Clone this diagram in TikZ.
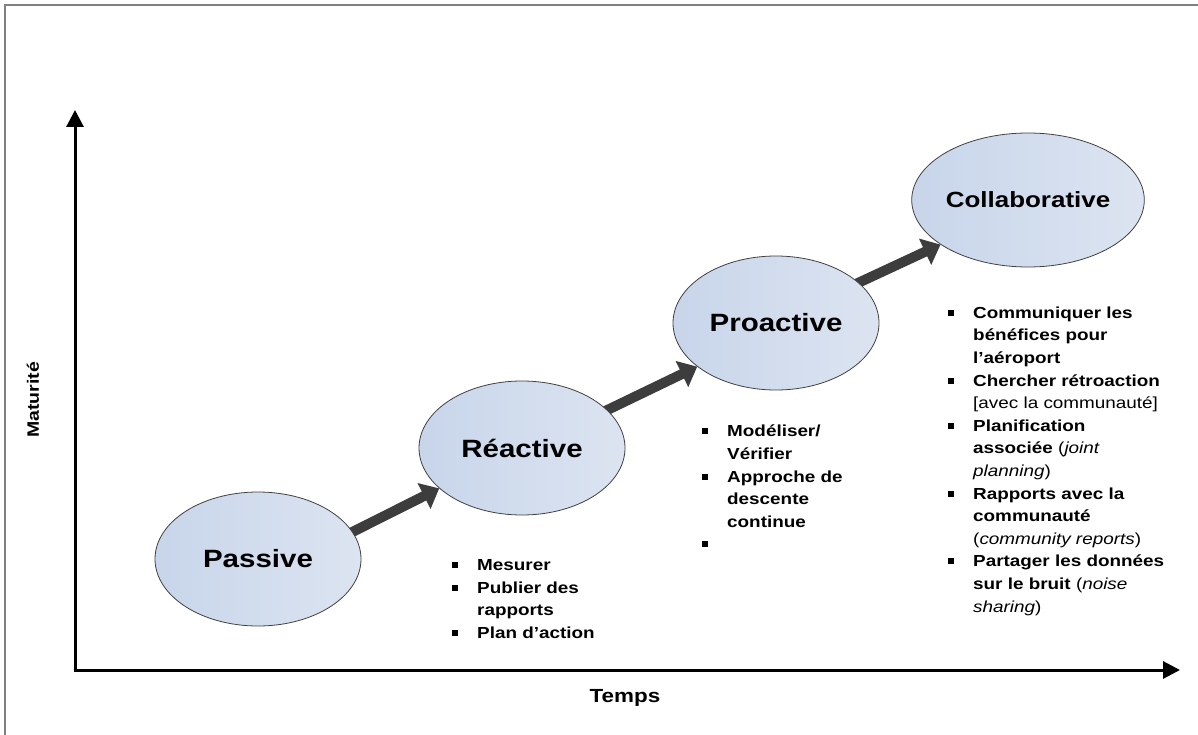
\documentclass[tikz,border=0pt]{standalone}
\usepackage{fontspec}
\setmainfont{Liberation Sans}[FakeStretch=1.18]
\usetikzlibrary{arrows.meta,shapes.geometric}
\pgfdeclarelayer{bg}
\pgfsetlayers{bg,main}

\definecolor{stageleft}{RGB}{200,213,234}
\definecolor{stageright}{RGB}{220,228,241}
\definecolor{framegray}{RGB}{128,128,128}

\newcommand{\blt}{\makebox[25pt][l]{\rule[2.5pt]{6pt}{6pt}}}
\newcommand{\ind}{\hspace*{25pt}}

\begin{document}
\begin{tikzpicture}[x=1pt, y=-1pt,
    stage/.style={ellipse, draw=black!75, line width=0.8pt,
        left color=stageleft, right color=stageright,
        minimum width=206pt, minimum height=134pt, inner sep=0pt,
        font=\fontsize{25}{30}\selectfont\bfseries},
    items/.style={anchor=north west, align=left, inner sep=0pt,
        font=\fontsize{16}{22.6}\selectfont\bfseries},
    flow/.style={line width=10pt, draw=black!76,
        -{Triangle[length=17pt,width=28pt]}},
    axis/.style={line width=3pt, -{Triangle[length=17pt,width=17pt]}}]
    \useasboundingbox (0,0) rectangle (1198,735);

    % Frame
    \draw[framegray, line width=1.5pt] (1198,5) -- (5,5) -- (5,735);

    % Axes
    \coordinate (origin) at (75,670);
    \coordinate (ytop) at (75,110);
    \coordinate (xend) at (1180,670);
    \draw[axis] (75,671.5) -- (ytop);
    \draw[axis] (73.5,670) -- (xend);
    \node[font=\fontsize{16.5}{20}\selectfont\bfseries, rotate=90] (ylab) at (33,400) {Maturité};
    \node[font=\fontsize{19}{22}\selectfont\bfseries] (xlab) at (625,698) {Temps};

    % Stages
    \node[stage] (passive) at (258,559) {Passive};
    \node[stage] (reactive) at (522,448) {Réactive};
    \node[stage] (proactive) at (776,323) {Proactive};
    \node[stage, font=\fontsize{22}{26}\selectfont\bfseries] (collab) at (1028,200) {Collaborative};

    % Arrows between stages
    \begin{pgfonlayer}{bg}
    \draw[flow, shorten <=-8pt] (passive.16) -- (reactive.206);
    \draw[flow, shorten <=-8pt] (reactive.24) -- (proactive.209);
    \draw[flow, shorten <=-8pt] (proactive.26) -- (collab.207);
    \end{pgfonlayer}

    % Actions for each stage
    \node[items] (reactlist) at (452,559.5) {\blt Mesurer\\ \blt Publier des\\ \ind rapports\\ \blt Plan d’action};
    \node[items] (proactlist) at (702,425) {\blt Modéliser/\\ \ind Vérifier\\ \blt Approche de\\ \ind descente\\ \ind continue\\ \blt};
    \node[items] (collablist) at (948,306.5) {\blt Communiquer les\\ \ind bénéfices pour\\ \ind l’aéroport\\
        \blt Chercher rétroaction\\ \ind {\mdseries [avec la communauté]}\\
        \blt Planification\\ \ind associée {\mdseries (\textit{joint}}\\ \ind {\mdseries\textit{planning})}\\
        \blt Rapports avec la\\ \ind communauté\\ \ind {\mdseries(\textit{community reports})}\\
        \blt Partager les données\\ \ind sur le bruit {\mdseries(\textit{noise}}\\ \ind {\mdseries\textit{sharing})}};
\end{tikzpicture}
\end{document}
